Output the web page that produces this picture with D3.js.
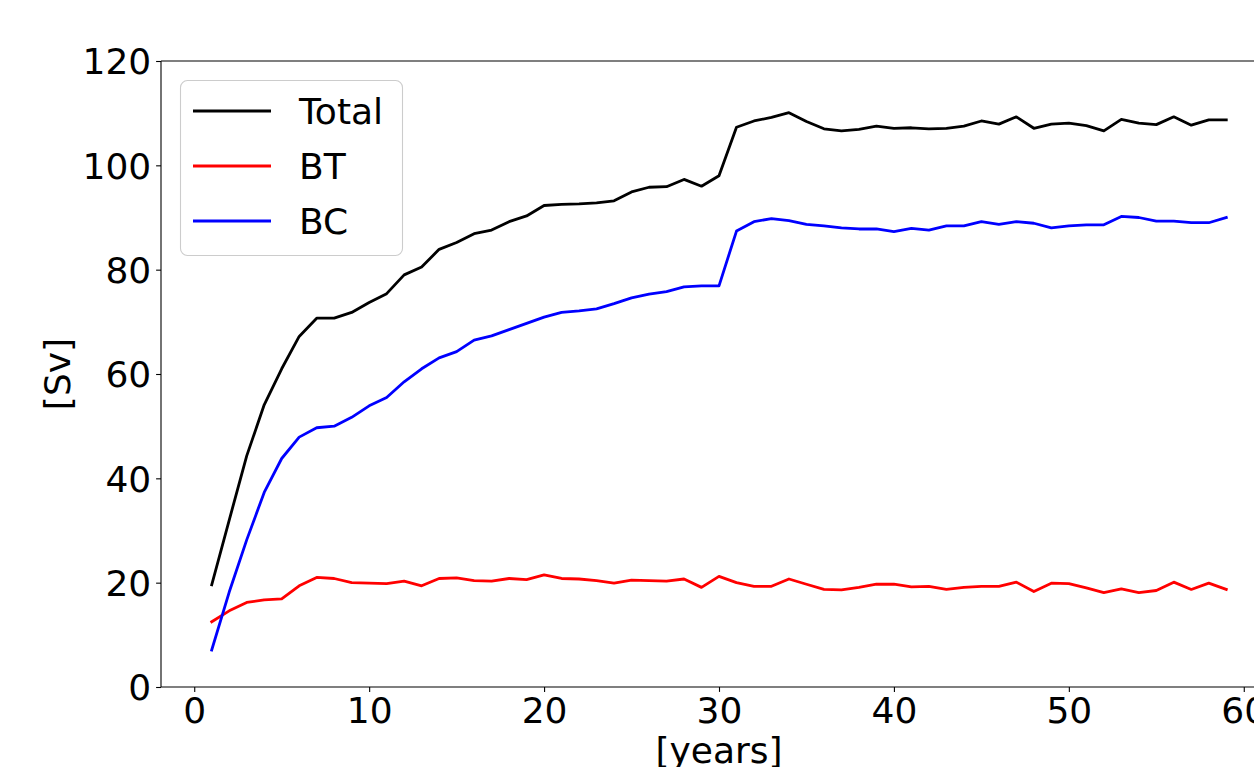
<!DOCTYPE html>
<html>
<head>
<meta charset="utf-8">
<script src="https://cdn.jsdelivr.net/npm/d3@7"></script>
<style>
  html, body { margin: 0; padding: 0; background: #fff; }
  svg { display: block; font-family: 'DejaVu Sans', sans-serif; }
</style>
</head>
<body>
<div id="chart"></div>
<script>
const years = [1, 2, 3, 4, 5, 6, 7, 8, 9, 10, 11, 12, 13, 14, 15, 16, 17, 18, 19, 20,
  21, 22, 23, 24, 25, 26, 27, 28, 29, 30, 31, 32, 33, 34, 35, 36, 37, 38, 39, 40,
  41, 42, 43, 44, 45, 46, 47, 48, 49, 50, 51, 52, 53, 54, 55, 56, 57, 58, 59]

const total = [19.6, 32.0, 44.3, 54.1, 61.0, 67.2, 70.7, 70.7, 71.8, 73.7,
  75.4, 79.0, 80.5, 83.9, 85.2, 86.9, 87.6, 89.2, 90.3, 92.3,
  92.5, 92.6, 92.8, 93.2, 94.9, 95.8, 95.9, 97.3, 96.0, 98.0,
  107.3, 108.5, 109.2, 110.1, 108.4, 107.0, 106.6, 106.9, 107.5, 107.1,
  107.2, 107.0, 107.1, 107.5, 108.5, 107.9, 109.3, 107.1, 107.9, 108.1,
  107.6, 106.6, 108.8, 108.1, 107.8, 109.3, 107.7, 108.7, 108.7]

const bt = [12.5, 14.6, 16.2, 16.7, 16.9, 19.4, 21.0, 20.8, 20.0, 19.9,
  19.8, 20.3, 19.4, 20.8, 20.9, 20.4, 20.3, 20.8, 20.6, 21.5,
  20.8, 20.7, 20.4, 19.9, 20.5, 20.4, 20.3, 20.7, 19.1, 21.2,
  20.0, 19.3, 19.3, 20.7, 19.7, 18.7, 18.6, 19.1, 19.7, 19.7,
  19.2, 19.3, 18.7, 19.1, 19.3, 19.3, 20.1, 18.3, 19.9, 19.8,
  19.0, 18.1, 18.8, 18.1, 18.5, 20.1, 18.7, 19.9, 18.7]

const bc = [7.1, 18.2, 28.2, 37.3, 43.8, 47.9, 49.7, 50.0, 51.7, 53.9,
  55.5, 58.5, 61.0, 63.1, 64.3, 66.5, 67.3, 68.5, 69.7, 70.9,
  71.8, 72.1, 72.5, 73.5, 74.6, 75.3, 75.8, 76.7, 76.9, 76.9,
  87.4, 89.2, 89.8, 89.4, 88.7, 88.4, 88.0, 87.8, 87.8, 87.3,
  87.9, 87.6, 88.4, 88.4, 89.2, 88.7, 89.2, 88.9, 88.0, 88.4,
  88.6, 88.6, 90.2, 90.0, 89.3, 89.3, 89.0, 89.0, 90.0]

const seriesNames = ['Total', 'BT', 'BC']
const seriesColors = ['#000000', '#ff0000', '#0000ff']
const xTicks = [0, 10, 20, 30, 40, 50, 60]
const yTicks = [0, 20, 40, 60, 80, 100, 120]

const W = 1254
const H = 767
const plot = { left: 161, top: 61, right: 1277, bottom: 687 }
const fontSize = 36

const svg = d3.select('#chart').append('svg')
  .attr('width', W)
  .attr('height', H)
  .attr('viewBox', `0 0 ${W} ${H}`)
  .style('overflow', 'hidden')

const x = d3.scaleLinear().domain([-1.9, 61.9]).range([plot.left, plot.right])
const y = d3.scaleLinear().domain([0, 120]).range([plot.bottom, plot.top])

// lines
const line = d3.line().x((d, i) => x(years[i])).y((d) => y(d))
const allSeries = [total, bt, bc]
svg.append('g').selectAll('path')
  .data(allSeries)
  .join('path')
  .attr('d', (d) => line(d))
  .attr('fill', 'none')
  .attr('stroke', (d, i) => seriesColors[i])
  .attr('stroke-width', 2.8)
  .attr('stroke-linejoin', 'round')
  .attr('stroke-linecap', 'square')

// spines
const spine = svg.append('g').attr('stroke', '#000').attr('stroke-width', 1.1)
spine.append('line').attr('x1', plot.left).attr('x2', plot.left).attr('y1', plot.top).attr('y2', plot.bottom)
spine.append('line').attr('x1', plot.left).attr('x2', plot.right).attr('y1', plot.bottom).attr('y2', plot.bottom)
spine.append('line').attr('x1', plot.left).attr('x2', plot.right).attr('y1', plot.top).attr('y2', plot.top)
spine.append('line').attr('x1', plot.right).attr('x2', plot.right).attr('y1', plot.top).attr('y2', plot.bottom)

// axes
const xAxis = d3.axisBottom(x).tickValues(xTicks).tickSize(4.9).tickPadding(4.9).tickFormat(d3.format('d'))
const yAxis = d3.axisLeft(y).tickValues(yTicks).tickSize(4.9).tickPadding(4.9).tickFormat(d3.format('d'))

const gx = svg.append('g').attr('transform', `translate(0,${plot.bottom})`).call(xAxis)
const gy = svg.append('g').attr('transform', `translate(${plot.left},0)`).call(yAxis)

for (const g of [gx, gy]) {
  g.select('.domain').remove()
  g.selectAll('.tick line').attr('stroke', '#000').attr('stroke-width', 1.1)
  g.selectAll('.tick text')
    .attr('fill', '#000')
    .style('font-family', "'DejaVu Sans', sans-serif")
    .style('font-size', fontSize + 'px')
}
gx.selectAll('.tick text').attr('dy', null).attr('y', 9.8).attr('dominant-baseline', 'hanging')
gy.selectAll('.tick text').attr('dy', '0.36em')

// axis labels
svg.append('text')
  .attr('x', (plot.left + plot.right) / 2)
  .attr('y', 763)
  .attr('text-anchor', 'middle')
  .style('font-size', fontSize + 'px')
  .text('[years]')

svg.append('text')
  .attr('transform', `translate(70,${(plot.top + plot.bottom) / 2}) rotate(-90)`)
  .attr('text-anchor', 'middle')
  .style('font-size', fontSize + 'px')
  .text('[Sv]')

// legend
const legend = svg.append('g')
legend.append('rect')
  .attr('x', 180.5).attr('y', 80.5)
  .attr('width', 222).attr('height', 175)
  .attr('rx', 7)
  .attr('fill', '#fff').attr('fill-opacity', 0.8)
  .attr('stroke', '#cccccc').attr('stroke-width', 1.1)

const rows = legend.selectAll('g.row')
  .data(seriesNames)
  .join('g')
  .attr('class', 'row')
  .attr('transform', (d, i) => `translate(0,${111 + i * 55})`)

rows.append('line')
  .attr('x1', 193).attr('x2', 271)
  .attr('stroke', (d, i) => seriesColors[i])
  .attr('stroke-width', 2.8)

rows.append('text')
  .attr('x', 299)
  .attr('dy', '0.36em')
  .style('font-size', fontSize + 'px')
  .text((d) => d)
</script>
</body>
</html>
